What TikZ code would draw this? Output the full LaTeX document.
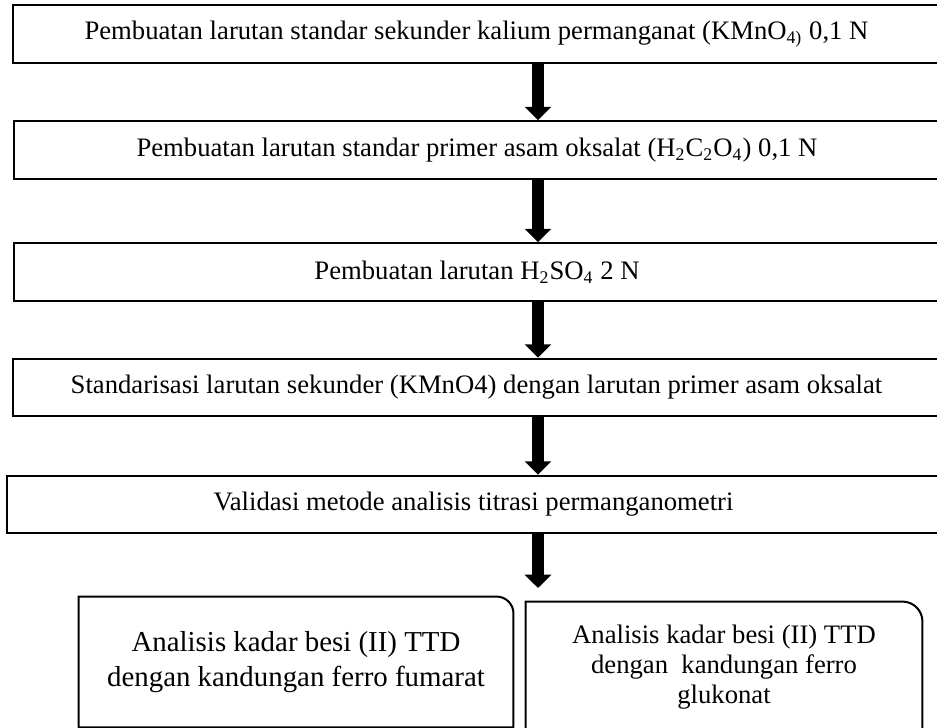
\documentclass[tikz,border=0pt]{standalone}
\usepackage{fontspec}
\setmainfont{Liberation Serif}
\usetikzlibrary{arrows.meta, positioning}

\tikzset{
    stage/.style={draw, line width=0.9pt, minimum width=417pt, minimum height=26pt, inner sep=0pt, font=\fontsize{12}{14}\selectfont},
    result/.style={draw=none, minimum height=58.5pt, inner sep=0pt, align=center},
    flow/.style={line width=5pt, -{Triangle[width=11.7pt, length=6pt]}},
}

\begin{document}
\begin{tikzpicture}[x=0.45pt, y=-0.45pt]
    \useasboundingbox (0, 0) rectangle (937, 727);

    \node[stage] at (476.5, 34)  (s1) {Pembuatan larutan standar sekunder kalium permanganat (KMnO\textsubscript{4)} 0,1 N};
    \node[stage] at (477, 150)   (s2) {Pembuatan larutan standar primer asam oksalat (H\textsubscript{2}C\textsubscript{2}O\textsubscript{4}) 0,1 N};
    \node[stage] at (477, 272)   (s3) {Pembuatan larutan H\textsubscript{2}SO\textsubscript{4} 2 N};
    \node[stage] at (476.5, 387.5) (s4) {Standarisasi larutan sekunder (KMnO4) dengan larutan primer asam oksalat};
    \node[stage, minimum width=420pt] at (473.5, 504.5) (s5) {Validasi metode analisis titrasi permanganometri};

    \node[result, minimum width=195.3pt, font=\fontsize{13}{15.75}\selectfont] at (296, 662) (fum) {Analisis kadar besi (II) TTD\\dengan kandungan ferro fumarat};
    \node[result, minimum width=178.2pt, font=\fontsize{12}{13.5}\selectfont] at (724, 667) (glu) {Analisis kadar besi (II) TTD\\dengan~ kandungan ferro\\glukonat};

    % only the top right corner is rounded
    \draw[line width=0.9pt] (fum.south west) -- (fum.north west) -- ([xshift=-7.6pt]fum.north east)
        arc[start angle=90, end angle=0, radius=7.6pt] -- (fum.south east) -- cycle;
    \draw[line width=0.9pt] (glu.south west) -- (glu.north west) -- ([xshift=-9pt]glu.north east)
        arc[start angle=90, end angle=0, radius=9pt] -- (glu.south east) -- cycle;

    \coordinate (ax) at (538, 0);
    \coordinate (tip) at (538, 588);

    \draw[flow] (s1.south -| ax) -- (s2.north -| ax);
    \draw[flow] (s2.south -| ax) -- (s3.north -| ax);
    \draw[flow] (s3.south -| ax) -- (s4.north -| ax);
    \draw[flow] (s4.south -| ax) -- (s5.north -| ax);
    \draw[flow] (s5.south -| ax) -- (tip);
\end{tikzpicture}
\end{document}
